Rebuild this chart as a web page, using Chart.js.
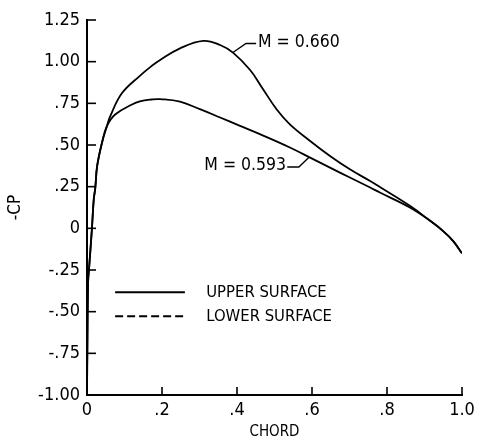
<!DOCTYPE html>
<html><head><meta charset="utf-8">
<script src="https://cdn.jsdelivr.net/npm/chart.js@4/dist/chart.umd.min.js"></script>
<style>html,body{margin:0;padding:0;background:#fff;}#wrap{width:477px;height:443px;}</style>
</head><body><div id="wrap"><canvas id="c" width="477" height="443"></canvas></div>
<script>
// Series M = 0.660 (upper surface)
const chordM660 = [0, 0.001, 0.003, 0.006, 0.013, 0.018, 0.022, 0.027, 0.040, 0.053, 0.062, 0.093, 0.141, 0.173, 0.195, 0.248, 0.310, 0.355, 0.390, 0.435, 0.470, 0.506, 0.541, 0.595, 0.648, 0.701, 0.755, 0.781, 0.861, 0.915, 0.949, 0.976, 1.0];
const cpM660    = [-1.0, -0.70, -0.32, -0.226, -0.006, 0.174, 0.24, 0.373, 0.514, 0.613, 0.673, 0.81, 0.915, 0.975, 1.01, 1.08, 1.125, 1.10, 1.053, 0.95, 0.833, 0.713, 0.624, 0.524, 0.434, 0.354, 0.284, 0.248, 0.135, 0.045, -0.015, -0.075, -0.15];
// Series M = 0.593 (upper surface)
const chordM593 = [0, 0.001, 0.003, 0.006, 0.013, 0.018, 0.022, 0.027, 0.040, 0.053, 0.075, 0.120, 0.141, 0.173, 0.195, 0.248, 0.301, 0.355, 0.408, 0.461, 0.541, 0.603, 0.656, 0.701, 0.755, 0.781, 0.861, 0.915, 0.949, 0.976, 1.0];
const cpM593    = [-1.0, -0.70, -0.32, -0.226, -0.006, 0.174, 0.24, 0.373, 0.514, 0.613, 0.683, 0.743, 0.762, 0.773, 0.775, 0.76, 0.715, 0.665, 0.615, 0.565, 0.485, 0.415, 0.355, 0.305, 0.245, 0.215, 0.125, 0.045, -0.015, -0.075, -0.15];

const xTickLabels = ['0', '.2', '.4', '.6', '.8', '1.0'];
const yTickLabels = ['-1.00', '-.75', '-.50', '-.25', '0', '.25', '.50', '.75', '1.00', '1.25'];
const seriesLabels = ['M = 0.660', 'M = 0.593'];
const legendLabels = ['UPPER SURFACE', 'LOWER SURFACE'];
const xTitle = 'CHORD';
const yTitle = '-CP';

const FONT = "'DejaVu Sans Condensed', 'DejaVu Sans', sans-serif";
Chart.defaults.font.family = FONT;
Chart.defaults.color = '#000';

function pts(xs, ys) { return xs.map((v, i) => ({x: v, y: ys[i]})); }

// annotation placement (data space)
const notes = [
  {label: 0, leader: [[0.389, 1.055], [0.424, 1.109], [0.451, 1.109]], at: [0.456, 1.115], align: 'left'},
  {label: 1, leader: [[0.592, 0.426], [0.565, 0.368], [0.534, 0.368]], at: [0.531, 0.376], align: 'right'}
];
const legendPos = {x0: 0.075, x1: 0.261, textX: 0.318, rows: [-0.384, -0.528], dash: [[], [8, 4]]};

const decor = {
  id: 'decor',
  afterDraw(chart) {
    const {ctx, chartArea: a, scales: {x, y}} = chart;
    ctx.save();
    ctx.strokeStyle = '#000';
    ctx.fillStyle = '#000';
    ctx.lineWidth = 1.6;
    // inward ticks
    y.ticks.forEach(t => {
      const py = y.getPixelForValue(t.value);
      ctx.beginPath(); ctx.moveTo(a.left, py); ctx.lineTo(a.left + 9, py); ctx.stroke();
    });
    x.ticks.forEach(t => {
      const px = x.getPixelForValue(t.value);
      ctx.beginPath(); ctx.moveTo(px, a.bottom); ctx.lineTo(px, a.bottom - 8); ctx.stroke();
    });
    // annotations
    ctx.lineWidth = 1.4;
    ctx.font = "17.5px " + FONT;
    ctx.textBaseline = 'middle';
    notes.forEach(n => {
      ctx.beginPath();
      n.leader.forEach((p, i) => {
        const px = x.getPixelForValue(p[0]), py = y.getPixelForValue(p[1]);
        if (i === 0) ctx.moveTo(px, py); else ctx.lineTo(px, py);
      });
      ctx.stroke();
      ctx.textAlign = n.align;
      ctx.fillText(seriesLabels[n.label], x.getPixelForValue(n.at[0]), y.getPixelForValue(n.at[1]));
    });
    // legend
    ctx.lineWidth = 2;
    ctx.font = "16.5px " + FONT;
    ctx.textAlign = 'left';
    legendPos.rows.forEach((r, i) => {
      const py = y.getPixelForValue(r);
      ctx.setLineDash(legendPos.dash[i]);
      ctx.beginPath();
      ctx.moveTo(x.getPixelForValue(legendPos.x0), py);
      ctx.lineTo(x.getPixelForValue(legendPos.x1), py);
      ctx.stroke();
      ctx.setLineDash([]);
      ctx.fillText(legendLabels[i], x.getPixelForValue(legendPos.textX), py);
    });
    ctx.restore();
  }
};

new Chart(document.getElementById('c'), {
  type: 'line',
  data: {
    datasets: [
      {label: seriesLabels[0], data: pts(chordM660, cpM660), borderColor: '#000', borderWidth: 1.8, pointRadius: 0, tension: 0.4, fill: false},
      {label: seriesLabels[1], data: pts(chordM593, cpM593), borderColor: '#000', borderWidth: 1.8, pointRadius: 0, tension: 0.4, fill: false}
    ]
  },
  options: {
    responsive: false,
    animation: false,
    devicePixelRatio: 1,
    layout: {padding: {top: 20, right: 15, left: 0, bottom: 0}},
    plugins: {legend: {display: false}, tooltip: {enabled: false}},
    scales: {
      x: {
        type: 'linear', min: 0, max: 1,
        grid: {display: false, drawTicks: false},
        border: {display: true, color: '#000', width: 2},
        ticks: {stepSize: 0.2, padding: 5, font: {size: 18}, color: '#000', maxRotation: 0,
          callback: (v, i) => xTickLabels[i]},
        title: {display: true, text: xTitle, font: {size: 15}, color: '#000', padding: {top: 0, bottom: 2}},
        afterFit: s => { s.height = 48; s.paddingRight = 0; s.paddingLeft = 0; }
      },
      y: {
        type: 'linear', min: -1, max: 1.25,
        grid: {display: false, drawTicks: false},
        border: {display: true, color: '#000', width: 2},
        ticks: {stepSize: 0.25, padding: 7, font: {size: 18}, color: '#000',
          callback: (v, i) => yTickLabels[i]},
        title: {display: true, text: yTitle, font: {size: 17}, color: '#000', padding: {top: 5, bottom: 0}},
        afterFit: s => { s.width = 87; }
      }
    }
  },
  plugins: [decor]
});
</script>
</body></html>
